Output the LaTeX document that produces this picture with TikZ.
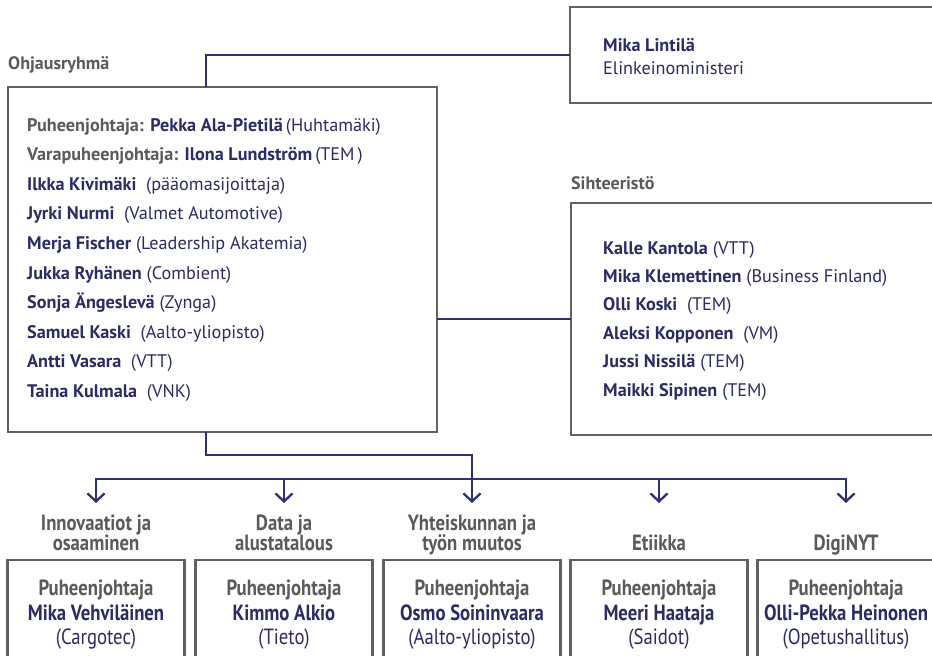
\documentclass[tikz,border=0pt]{standalone}
\usepackage{fontspec}
\setmainfont{PT Sans}
\newfontfamily\condf[FakeStretch=0.85]{PT Sans}
\usetikzlibrary{arrows.meta}
\definecolor{navy}{HTML}{2B2B66}
\definecolor{lnavy}{HTML}{2E3077}
\definecolor{txtgray}{HTML}{5A5A5A}
\definecolor{boxgray}{HTML}{626262}
\begin{document}
\begin{tikzpicture}[x=1pt,y=-1pt,
  box/.style={draw=boxgray, line width=2.4pt, inner sep=0pt, outer sep=0pt, fill=white},
  conn/.style={draw=lnavy, line width=2.3pt},
  arr/.style={conn, -{Straight Barb[length=8pt,width=17pt]}},
  ln/.style={anchor=base west, inner sep=0pt, font=\fontsize{18.2}{21}\selectfont, text=navy},
  head/.style={anchor=base west, inner sep=0pt, font=\fontsize{18}{21}\selectfont\bfseries, text=txtgray},
  cat/.style={anchor=base, inner sep=0pt, font=\condf\fontsize{22}{20}\selectfont\bfseries, text=txtgray},
  bt/.style={anchor=base, inner sep=0pt, font=\condf\fontsize{22}{24}\selectfont, text=navy}
]
\clip (0,0) rectangle (932,656);
\fill[white] (0,0) rectangle (932,656);

% boxes
\node[box, minimum width=429pt, minimum height=345pt] (main) at (222.5,259.5) {};
\node[box, minimum width=380pt, minimum height=96pt] (mika) at (760,55) {};
\node[box, minimum width=379pt, minimum height=232pt] (sih) at (760.5,319) {};
\foreach \i/\x in {1/96,2/284,3/472,4/659,5/846}{
  \node[box, minimum width=177pt, minimum height=160pt] (b\i) at (\x,640) {};
  \coordinate (t\i) at (\x,503);
}
\coordinate (bus) at (0,479);
\coordinate (jog) at (472,455);

% connectors
\draw[conn] ([xshift=-16.5pt]main.north) |- (mika.west);
\draw[conn] (main.east |- sih.west) -- (sih.west);
\draw[arr] ([xshift=-16.5pt]main.south) |- (jog) -- (t3);
\draw[arr] (t3 |- bus) -| (t1);
\draw[arr] (t3 |- bus) -| (t5);
\draw[arr] (t2 |- bus) -- (t2);
\draw[arr] (t4 |- bus) -- (t4);

% headings
\node[head] (hO) at (8,69) {Ohjausryhmä};
\node[head] (hS) at (571,189) {Sihteeristö};

% Mika Lintila
\node[ln, font=\fontsize{18.2}{21}\selectfont\bfseries] (ml1) at (603,51) {Mika Lintilä};
\node[ln] (ml2) at (603,74) {Elinkeinoministeri};

% main box lines
\node[ln] (m0) at (27,131.0) {\textcolor{txtgray}{\bfseries Puheenjohtaja:} \textbf{Pekka Ala-Pietilä}\,(Huhtamäki)};
\node[ln] (m1) at (27,160.6) {\textcolor{txtgray}{\bfseries Varapuheenjohtaja:} \textbf{Ilona Lundström}\,(TEM\,)};
\node[ln] (m2) at (27,190.2) {\textbf{Ilkka Kivimäki}\ \ (pääomasijoittaja)};
\node[ln] (m3) at (27,219.8) {\textbf{Jyrki Nurmi}\ \ (Valmet Automotive)};
\node[ln] (m4) at (27,249.4) {\textbf{Merja Fischer} (Leadership Akatemia)};
\node[ln] (m5) at (27,279.0) {\textbf{Jukka Ryhänen} (Combient)};
\node[ln] (m6) at (27,308.6) {\textbf{Sonja Ängeslevä} (Zynga)};
\node[ln] (m7) at (27,338.2) {\textbf{Samuel Kaski}\ \ (Aalto-yliopisto)};
\node[ln] (m8) at (27,367.8) {\textbf{Antti Vasara}\ \ (VTT)};
\node[ln] (m9) at (27,397.4) {\textbf{Taina Kulmala}\ \ (VNK)};

% secretariat lines
\node[ln] (s0) at (603,254.0) {\textbf{Kalle Kantola}\ (VTT)};
\node[ln] (s1) at (603,282.4) {\textbf{Mika Klemettinen}\ (Business Finland)};
\node[ln] (s2) at (603,310.8) {\textbf{Olli Koski}\ \ (TEM)};
\node[ln] (s3) at (603,339.2) {\textbf{Aleksi Kopponen}\ \ (VM)};
\node[ln] (s4) at (603,367.6) {\textbf{Jussi Nissilä}\ (TEM)};
\node[ln] (s5) at (603,396.0) {\textbf{Maikki Sipinen}\ (TEM)};

% category labels
\node[cat] (c1a) at (96,530) {Innovaatiot ja};
\node[cat] (c1b) at (96,550) {osaaminen};
\node[cat] (c2a) at (284,530) {Data ja};
\node[cat] (c2b) at (284,550) {alustatalous};
\node[cat] (c3a) at (472,530) {Yhteiskunnan ja};
\node[cat] (c3b) at (472,550) {työn muutos};
\node[cat] (c4) at (659,550) {Etiikka};
\node[cat] (c5) at (846,550) {DigiNYT};

% bottom box texts
\foreach \i/\x/\n/\a in {1/96/Mika Vehviläinen/Cargotec,2/284/Kimmo Alkio/Tieto,3/472/Osmo Soininvaara/Aalto-yliopisto,4/659/Meeri Haataja/Saidot,5/846/Olli-Pekka Heinonen/Opetushallitus}{
  \node[bt, text=txtgray, font=\condf\fontsize{22}{24}\selectfont\bfseries] (p\i) at (\x,595) {Puheenjohtaja};
  \node[bt, font=\condf\fontsize{22}{24}\selectfont\bfseries] (n\i) at (\x,620) {\n};
  \node[bt] (a\i) at (\x,644) {(\a)};
}
\end{tikzpicture}
\end{document}
